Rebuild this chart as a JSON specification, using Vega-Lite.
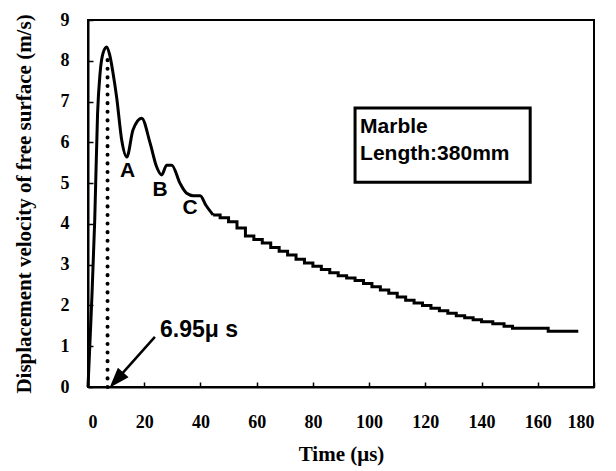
{
  "$schema": "https://vega.github.io/schema/vega-lite/v6.json",
  "width": 506,
  "height": 367,
  "autosize": {"type": "none"},
  "padding": {"left": 88, "top": 20, "right": 22, "bottom": 84},
  "background": "white",
  "config": {
    "view": {"stroke": "black", "strokeWidth": 2},
    "axis": {
      "domainColor": "black", "domainWidth": 2,
      "tickColor": "black", "tickWidth": 1.5, "tickSize": -5,
      "labelFont": "Liberation Serif", "labelFontWeight": "bold", "labelFontSize": 18, "labelColor": "black",
      "titleFont": "Liberation Serif", "titleFontWeight": "bold", "titleFontSize": 21, "titleColor": "black",
      "grid": false
    }
  },
  "datasets": {
    "head": [
      {"t": 0, "v": 0}, {"t": 1.2, "v": 1.9}, {"t": 2.4, "v": 4.1}, {"t": 3.4, "v": 6.7},
      {"t": 4.3, "v": 7.7}, {"t": 5.4, "v": 8.2}, {"t": 6.65, "v": 8.34}, {"t": 7.7, "v": 8.15},
      {"t": 8.9, "v": 7.7}, {"t": 10.2, "v": 7.1}, {"t": 12.0, "v": 6.05}, {"t": 13.8, "v": 5.64},
      {"t": 16.0, "v": 6.3}, {"t": 19.1, "v": 6.59}, {"t": 22.1, "v": 5.98}, {"t": 24.4, "v": 5.4},
      {"t": 26.2, "v": 5.2}, {"t": 28.0, "v": 5.44}, {"t": 29.8, "v": 5.44}, {"t": 32.7, "v": 5.0},
      {"t": 35.1, "v": 4.75}, {"t": 37.5, "v": 4.69}, {"t": 39.9, "v": 4.69}, {"t": 42.0, "v": 4.45},
      {"t": 44.5, "v": 4.22}
    ],
    "tail": [
      {"t": 44.5, "v": 4.22}, {"t": 47, "v": 4.15}, {"t": 50, "v": 4.05}, {"t": 53, "v": 3.9},
      {"t": 56, "v": 3.7}, {"t": 59, "v": 3.62}, {"t": 62, "v": 3.53}, {"t": 65, "v": 3.42},
      {"t": 68, "v": 3.33}, {"t": 71, "v": 3.24}, {"t": 74, "v": 3.13}, {"t": 77, "v": 3.04},
      {"t": 80, "v": 2.96}, {"t": 83, "v": 2.88}, {"t": 86, "v": 2.8}, {"t": 89, "v": 2.73},
      {"t": 92, "v": 2.67}, {"t": 95, "v": 2.61}, {"t": 98, "v": 2.54}, {"t": 101, "v": 2.46},
      {"t": 104, "v": 2.38}, {"t": 107, "v": 2.3}, {"t": 110, "v": 2.21}, {"t": 113, "v": 2.13},
      {"t": 116, "v": 2.06}, {"t": 119, "v": 2.0}, {"t": 122, "v": 1.93}, {"t": 125, "v": 1.87},
      {"t": 128, "v": 1.81}, {"t": 131, "v": 1.75}, {"t": 134, "v": 1.7}, {"t": 137, "v": 1.65},
      {"t": 140, "v": 1.6}, {"t": 144, "v": 1.55}, {"t": 148, "v": 1.49}, {"t": 151, "v": 1.44},
      {"t": 163.7, "v": 1.37}, {"t": 174.4, "v": 1.37}
    ],
    "marker": [{"t": 6.95, "v0": 0, "v1": 8.1}],
    "arrow": [{"t": 23.8, "v": 1.23}, {"t": 9.75, "v": 0.145}],
    "arrowhead": [{"t": 10.1, "v": 0.17}],
    "box": [{"t0": 95.0, "t1": 157.3, "v0": 5.02, "v1": 6.84}],
    "boxtext": [
      {"t": 96.8, "v": 6.23, "label": "Marble"},
      {"t": 96.8, "v": 5.56, "label": "Length:380mm"}
    ],
    "points": [
      {"t": 14.06, "v": 5.29, "label": "A"},
      {"t": 25.6, "v": 4.84, "label": "B"},
      {"t": 36.3, "v": 4.4, "label": "C"}
    ],
    "note": [{"t": 25.6, "v": 1.23, "label": "6.95μ s"}]
  },
  "layer": [
    {
      "data": {"name": "head"},
      "mark": {"type": "line", "color": "black", "strokeWidth": 3, "interpolate": "monotone"},
      "encoding": {
        "x": {"field": "t", "type": "quantitative",
              "scale": {"domain": [0, 180], "nice": false, "zero": false},
              "axis": {"values": [0, 20, 40, 60, 80, 100, 120, 140, 160, 180], "title": "Time  (μs)",
                       "labelPadding": 31, "titlePadding": 12}},
        "y": {"field": "v", "type": "quantitative",
              "scale": {"domain": [0, 9], "nice": false},
              "axis": {"values": [0, 1, 2, 3, 4, 5, 6, 7, 8, 9], "title": "Displacement velocity of free surface  (m/s)",
                       "labelPadding": 24, "titlePadding": 26}}
      }
    },
    {
      "data": {"name": "tail"},
      "mark": {"type": "line", "color": "black", "strokeWidth": 3, "interpolate": "step-after"},
      "encoding": {"x": {"field": "t", "type": "quantitative"}, "y": {"field": "v", "type": "quantitative"}}
    },
    {
      "data": {"name": "marker"},
      "mark": {"type": "rule", "color": "black", "strokeWidth": 4, "strokeCap": "round", "strokeDash": [0.1, 8.5]},
      "encoding": {"x": {"field": "t", "type": "quantitative"}, "y": {"field": "v0", "type": "quantitative"}, "y2": {"field": "v1"}}
    },
    {
      "data": {"name": "arrow"},
      "mark": {"type": "line", "color": "black", "strokeWidth": 2.5},
      "encoding": {"x": {"field": "t", "type": "quantitative"}, "y": {"field": "v", "type": "quantitative"}}
    },
    {
      "data": {"name": "arrowhead"},
      "mark": {"type": "point", "shape": "M0,-1L0.7,1L-0.7,1Z", "filled": true, "color": "black", "opacity": 1, "size": 420, "angle": 222},
      "encoding": {"x": {"field": "t", "type": "quantitative"}, "y": {"field": "v", "type": "quantitative"}}
    },
    {
      "data": {"name": "box"},
      "mark": {"type": "rect", "fill": "white", "stroke": "black", "strokeWidth": 3},
      "encoding": {
        "x": {"field": "t0", "type": "quantitative"}, "x2": {"field": "t1"},
        "y": {"field": "v0", "type": "quantitative"}, "y2": {"field": "v1"}
      }
    },
    {
      "data": {"name": "boxtext"},
      "mark": {"type": "text", "align": "left", "baseline": "alphabetic", "font": "Liberation Sans", "fontWeight": "bold", "fontSize": 21, "color": "black"},
      "encoding": {"x": {"field": "t", "type": "quantitative"}, "y": {"field": "v", "type": "quantitative"}, "text": {"field": "label"}}
    },
    {
      "data": {"name": "points"},
      "mark": {"type": "text", "align": "center", "baseline": "middle", "font": "Liberation Sans", "fontWeight": "bold", "fontSize": 21, "color": "black"},
      "encoding": {"x": {"field": "t", "type": "quantitative"}, "y": {"field": "v", "type": "quantitative"}, "text": {"field": "label"}}
    },
    {
      "data": {"name": "note"},
      "mark": {"type": "text", "align": "left", "baseline": "alphabetic", "font": "Liberation Sans", "fontWeight": "bold", "fontSize": 23, "color": "black"},
      "encoding": {"x": {"field": "t", "type": "quantitative"}, "y": {"field": "v", "type": "quantitative"}, "text": {"field": "label"}}
    }
  ]
}
